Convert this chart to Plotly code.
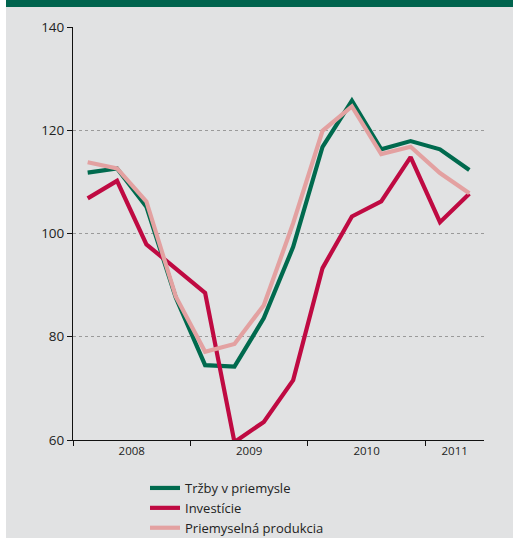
import plotly.graph_objects as go

# Quarterly indices 2008 Q1 – 2011 Q2
quarters = ["2008 Q1", "2008 Q2", "2008 Q3", "2008 Q4",
            "2009 Q1", "2009 Q2", "2009 Q3", "2009 Q4",
            "2010 Q1", "2010 Q2", "2010 Q3", "2010 Q4",
            "2011 Q1", "2011 Q2"]
trzby = [111.8, 112.6, 105.2, 87.6, 74.5, 74.2, 83.6, 97.4,
         116.8, 125.7, 116.3, 117.9, 116.3, 112.3]
investicie = [106.8, 110.2, 97.9, 93.1, 88.5, 59.6, 63.5, 71.6,
              93.3, 103.3, 106.2, 114.8, 102.2, 107.7]
produkcia = [113.8, 112.6, 106.2, 87.8, 77.1, 78.6, 86.1, 102.0,
             119.9, 124.6, 115.4, 116.8, 111.7, 107.8]
years = ["2008", "2009", "2010", "2011"]
y_ticks = [60, 80, 100, 120, 140]

GREEN = "#006a4e"
RED = "#bf0a42"
PINK = "#e3a1a1"
PANEL = "#e1e2e3"

x = list(range(len(quarters)))
year_of = [q.split()[0] for q in quarters]
year_pos = [sum(i for i, yy in enumerate(year_of) if yy == y) / year_of.count(y) for y in years]
year_edges = [-0.5] + [i - 0.5 for i in range(1, len(year_of)) if year_of[i] != year_of[i - 1]]

fig = go.Figure()
for name, vals, col in [("Tržby v priemysle", trzby, GREEN),
                        ("Investície", investicie, RED),
                        ("Priemyselná produkcia", produkcia, PINK)]:
    fig.add_trace(go.Scatter(x=x, y=vals, mode="lines", name=name,
                             line=dict(color=col, width=4.2),
                             hoverinfo="skip"))

W, H = 515, 538
L, R, T, B = 73, 31, 27, 98
pw, ph = W - L - R, H - T - B


def px(xp):
    return (xp - L) / pw


def py(yp):
    return (H - B - yp) / ph


fig.update_layout(
    width=W, height=H,
    margin=dict(l=L, r=R, t=T, b=B, autoexpand=False),
    paper_bgcolor="white",
    plot_bgcolor=PANEL,
    font=dict(family="Open Sans", color="#222"),
    showlegend=True,
    legend=dict(x=px(145), y=py(473), xanchor="left", yanchor="top",
                bgcolor="rgba(0,0,0,0)", font=dict(size=13, color="#222"),
                tracegroupgap=0, itemwidth=30),
    shapes=[
        dict(type="rect", xref="paper", yref="paper", layer="below",
             x0=px(6), x1=px(513), y0=py(H), y1=py(7),
             fillcolor=PANEL, line=dict(width=0)),
        dict(type="rect", xref="paper", yref="paper", layer="below",
             x0=px(6), x1=px(513), y0=py(7), y1=py(0),
             fillcolor="#00644e", line=dict(width=0)),
    ],
    xaxis=dict(
        range=[-0.5, len(quarters) - 0.5],
        tickmode="array", tickvals=year_pos, ticktext=years,
        ticks="", showgrid=False, zeroline=False,
        showline=True, linecolor="#111", linewidth=1,
        tickfont=dict(size=11.5, color="#222"),
        minor=dict(tickmode="array", tickvals=year_edges, ticks="outside",
                   ticklen=5, tickcolor="#111", tickwidth=1, showgrid=False),
    ),
    yaxis=dict(
        range=[60, 140], tickmode="array", tickvals=y_ticks,
        ticks="outside", ticklen=5, tickcolor="#111", tickwidth=1,
        showline=True, linecolor="#111", linewidth=1,
        showgrid=True, gridcolor="#9a9a9a", gridwidth=1, griddash="dot",
        zeroline=False, tickfont=dict(size=13.5, color="#222"),
    ),
)

fig.write_html("out.html")
